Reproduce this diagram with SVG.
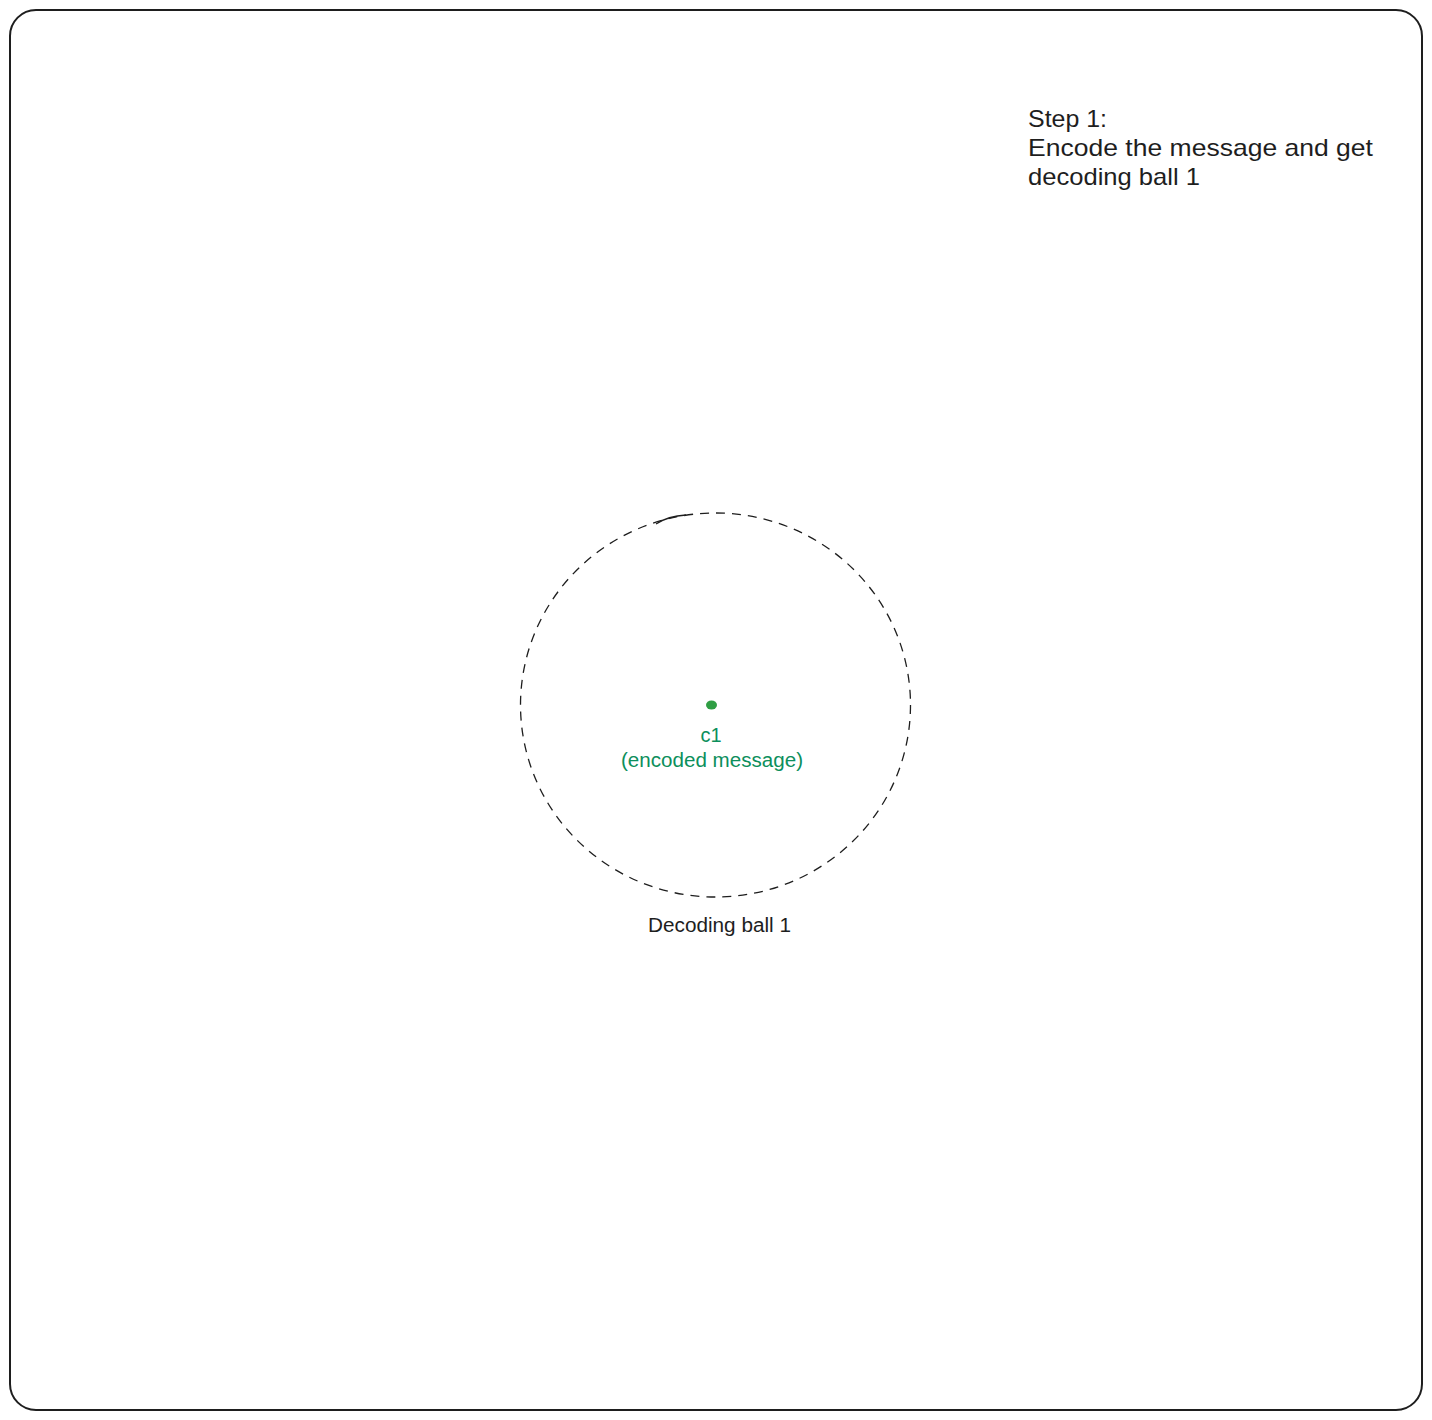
<svg xmlns="http://www.w3.org/2000/svg" width="1432" height="1420" viewBox="0 0 1432 1420">
<style>
.hand{font-family:"Liberation Sans","Noto Sans",sans-serif;}
.dark{fill:#1e1e1e;}
.green{fill:#0c8f5c;}
</style>
<rect x="0" y="0" width="1432" height="1420" fill="#ffffff"/>
<g id="frame">
<rect x="10" y="10" width="1412" height="1400" rx="26" ry="26" fill="none" stroke="#1e1e1e" stroke-width="2"/>
</g>
<g id="step-label">
<text class="hand dark" font-size="24" x="1028" y="127" textLength="79" lengthAdjust="spacingAndGlyphs">Step 1:</text>
<text class="hand dark" font-size="24" x="1028" y="156" textLength="345" lengthAdjust="spacingAndGlyphs">Encode the message and get</text>
<text class="hand dark" font-size="24" x="1028" y="185" textLength="172" lengthAdjust="spacingAndGlyphs">decoding ball 1</text>
</g>
<g id="decoding-ball-1">
<ellipse cx="715.5" cy="705" rx="195" ry="192" fill="none" stroke="#1e1e1e" stroke-width="1.3" stroke-dasharray="9 7"/>
<path d="M656 524 Q668 516 686 515" fill="none" stroke="#1e1e1e" stroke-width="1.3"/>
<text class="hand dark" font-size="20" x="719.5" y="932" text-anchor="middle" textLength="143" lengthAdjust="spacingAndGlyphs">Decoding ball 1</text>
</g>
<g id="c1">
<ellipse cx="711.5" cy="705" rx="5.5" ry="4.5" fill="#2f9e44"/>
<text class="hand green" font-size="20" x="711" y="742" text-anchor="middle">c1</text>
<text class="hand green" font-size="20" x="712" y="767" text-anchor="middle" textLength="182" lengthAdjust="spacingAndGlyphs">(encoded message)</text>
</g>
<g id="connectors"></g>
</svg>
